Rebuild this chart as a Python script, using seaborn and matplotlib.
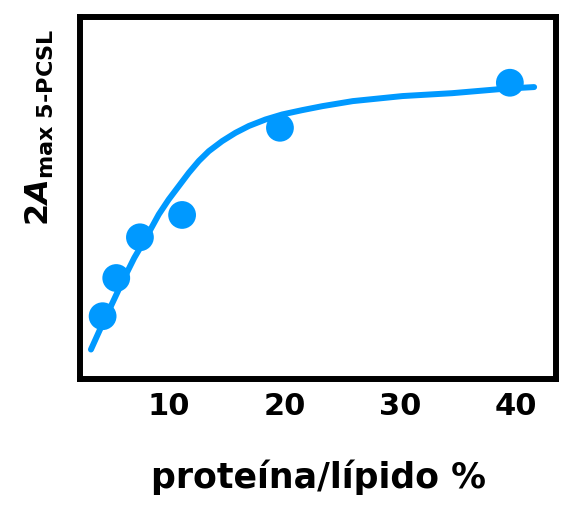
import numpy as np
import matplotlib
matplotlib.use("Agg")
import matplotlib.pyplot as plt
import seaborn as sns

# measured points (protein/lipid %, 2Amax in arbitrary units)
ratio_pts = [4.25, 5.43, 7.48, 11.13, 19.6, 39.5]
amax_pts = [0.175, 0.281, 0.394, 0.456, 0.698, 0.823]

# fitted curve
ratio_fit = [3.24, 3.95, 4.97, 5.98, 6.99, 8.01, 9.11, 9.97, 10.84, 11.71,
             12.58, 13.44, 14.6, 15.75, 16.91, 18.35, 19.8, 21.53, 23.27,
             25.9, 30.2, 34.5, 38.9, 41.6]
amax_fit = [0.0825, 0.133, 0.203, 0.272, 0.337, 0.393, 0.4575, 0.499, 0.536, 0.573,
            0.606, 0.633, 0.661, 0.684, 0.703, 0.721, 0.735, 0.747, 0.758,
            0.772, 0.786, 0.794, 0.806, 0.811]

xticks = [10, 20, 30, 40]
blue = "#0099ff"

sns.set_style("white")
plt.rcParams["font.family"] = ["DejaVu Sans"]
plt.rcParams["font.weight"] = "bold"
plt.rcParams["text.color"] = "black"
plt.rcParams["axes.labelcolor"] = "black"
plt.rcParams["xtick.color"] = "black"
plt.rcParams["mathtext.fontset"] = "custom"
plt.rcParams["mathtext.rm"] = "DejaVu Sans:bold"
plt.rcParams["mathtext.it"] = "DejaVu Sans:italic:bold"
plt.rcParams["mathtext.bf"] = "DejaVu Sans:bold"

fig = plt.figure(figsize=(5.68, 5.05), dpi=100)
ax = fig.add_axes([0.141, 0.249, 0.838, 0.717])

sns.lineplot(x=ratio_fit, y=amax_fit, ax=ax, color=blue, linewidth=4.3, sort=False,
             solid_joinstyle="round")
sns.scatterplot(x=ratio_pts, y=amax_pts, ax=ax, color=blue, s=400, edgecolor="none", zorder=3)

ax.set_xlim(2.3, 43.5)
ax.set_ylim(0, 1.005)
ax.set_xticks(xticks)
ax.set_xticklabels([str(t) for t in xticks], fontsize=22, fontweight="bold", color="black")
ax.set_yticks([])
ax.tick_params(axis="x", length=0, pad=9)

for sp in ax.spines.values():
    sp.set_linewidth(4.3)
    sp.set_color("black")

ax.set_xlabel("proteína/lípido %", fontsize=25, fontweight="bold", labelpad=28, color="black")
ax.set_ylabel(r"$\mathrm{2}A_{\mathrm{max\ 5\text{-}PCSL}}$", fontsize=23, color="black")
ax.yaxis.set_label_coords(-0.05, 0.696)

fig.savefig("out.png", dpi=100)
